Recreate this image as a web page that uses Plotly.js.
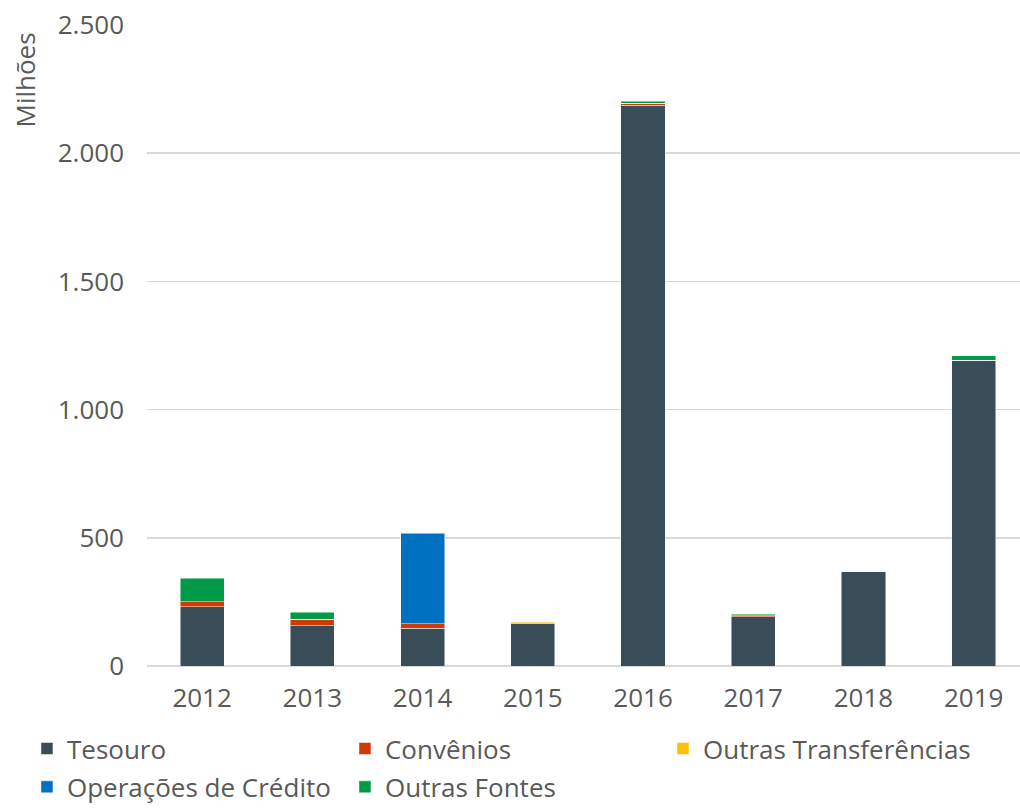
<!DOCTYPE html>
<html>
<head>
<meta charset="utf-8">
<script src="https://cdn.plot.ly/plotly-3.0.1.min.js"></script>
<style>html,body{margin:0;padding:0;background:#fff;}#chart{width:1020px;height:808px;}</style>
</head>
<body>
<div id="chart"></div>
<script>
const years = ['2012','2013','2014','2015','2016','2017','2018','2019'];
const tesouro = [231, 157, 147, 166, 2188, 192, 370, 1193];
const convenios = [20, 25, 18, 2, 6, 4, 0, 0];
const outrasTransferencias = [0, 0, 0, 4, 0, 0, 0, 0];
const operacoesCredito = [0, 0, 350, 0, 0, 0, 0, 0];
const outrasFontes = [91, 27, 4, 0, 9, 6, 0, 17];
const yTicks = [0, 500, 1000, 1500, 2000, 2500];

const FONT = '"Open Sans", "Liberation Sans", sans-serif';
const TXT = '#595959';

function tr(name, vals, color, leg) {
  return {type:'bar', name:name, x:years, y:vals, legend:leg,
    marker:{color:color, line:{color:'rgba(255,255,255,0.6)', width:0.8}},
    hoverinfo:'x+y+name'};
}

const data = [
  tr('Tesouro', tesouro, '#384d58', 'legend'),
  tr('Convênios', convenios, '#cf3a05', 'legend'),
  tr('Outras Transferências', outrasTransferencias, '#ffc000', 'legend'),
  tr('Operações de Crédito', operacoesCredito, '#0070c0', 'legend2'),
  tr('Outras Fontes', outrasFontes, '#009a49', 'legend2')
];

const legBase = {orientation:'h', x:-0.1375, xanchor:'left', yanchor:'top',
  entrywidth:273, entrywidthmode:'pixels', traceorder:'normal',
  font:{family:FONT, size:26, color:TXT}, bgcolor:'rgba(0,0,0,0)'};

const layout = {
  width:1020, height:808,
  margin:{l:147, r:0, t:25, b:142, pad:0, autoexpand:false},
  paper_bgcolor:'#fff', plot_bgcolor:'#fff',
  barmode:'stack', bargap:0.6,
  separators:',.',
  font:{family:FONT, size:26, color:TXT},
  showlegend:true,
  xaxis:{type:'category', range:[-0.5, 7.42], showgrid:false, zeroline:false,
    showline:false, ticks:'', tickfont:{family:FONT, size:26, color:TXT},
    ticklabelstandoff:14, automargin:false},
  yaxis:{range:[0,2500], tickvals:yTicks, tickformat:',d', showgrid:true,
    gridcolor:'#d9d9d9', gridwidth:1.5, zeroline:true, zerolinecolor:'#d9d9d9',
    zerolinewidth:1.5, showline:false, ticks:'', automargin:false,
    tickfont:{family:FONT, size:26, color:TXT}, ticklabelstandoff:22},
  legend:Object.assign({}, legBase, {y:-0.0922}),
  legend2:Object.assign({}, legBase, {y:-0.152}),
  annotations:[{text:'Milhões', xref:'paper', yref:'paper', x:0, y:1,
    xanchor:'center', yanchor:'top', xshift:-123, yshift:-6, textangle:-90,
    showarrow:false, font:{family:FONT, size:26, color:TXT}}]
};

Plotly.newPlot('chart', data, layout, {displayModeBar:false, staticPlot:true});
</script>
</body>
</html>
